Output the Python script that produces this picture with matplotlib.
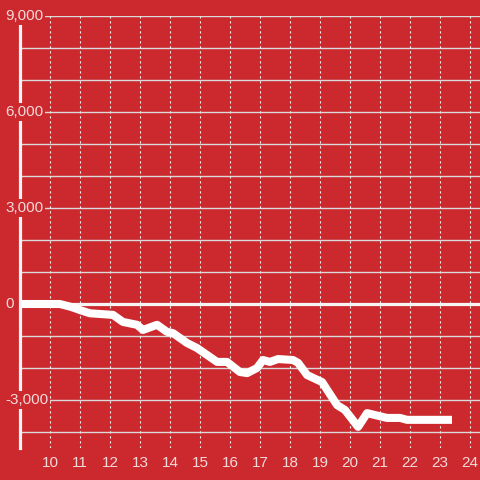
import matplotlib

matplotlib.use("Agg")
import matplotlib.pyplot as plt
from matplotlib.transforms import blended_transform_factory

# hour of day vs running value
hours = [9.0, 10.33, 10.7, 11.0, 11.33, 12.1, 12.43, 12.9, 13.1, 13.57, 13.9, 14.1,
         14.57, 14.9, 15.57, 15.9, 16.33, 16.57, 16.9, 17.1, 17.33, 17.6, 18.1, 18.27,
         18.57, 19.07, 19.57, 19.83, 20.27, 20.57, 21.23, 21.67, 21.9, 23.4]
values = [0, 0, -90, -190, -290, -340, -560, -650, -810, -650, -870, -910,
          -1220, -1375, -1810, -1810, -2125, -2160, -2000, -1750, -1810, -1720, -1750, -1840,
          -2220, -2440, -3160, -3310, -3840, -3410, -3560, -3560, -3620, -3620]

x_ticks = list(range(10, 25))
y_labels = [9000, 6000, 3000, 0, -3000]
y_grid = list(range(-4000, 10000, 1000))

BG = "#cc292e"
TXT = "#f3dada"

fig = plt.figure(figsize=(4.8, 4.8), dpi=100, facecolor=BG)
ax = fig.add_axes([20 / 480, 32 / 480, 460 / 480, 432 / 480])
ax.set_facecolor(BG)
ax.set_xlim(9, 24 + 1 / 3)
ax.set_ylim(-4500, 9000)

for v in y_grid:
    ax.axhline(v, color="#d9d9d9", lw=1, zorder=1)
for h in x_ticks:
    ax.axvline(h, color="#eeeeee", lw=0.8, ls=(0, (2, 2.5)), zorder=1)
ax.axhline(0, color="#f5f5f5", lw=2.3, zorder=2)

ax.plot(hours, values, color="white", lw=5.8, solid_joinstyle="round",
        solid_capstyle="butt", zorder=3)

for s in ["top", "right", "bottom"]:
    ax.spines[s].set_visible(False)
ax.spines["left"].set_color("#f5f5f5")
ax.spines["left"].set_linewidth(2.3)
ax.spines["left"].set_zorder(4)

ax.set_xticks(x_ticks)
ax.set_xticklabels([str(h) for h in x_ticks])
ax.tick_params(axis="x", length=0, pad=6, labelsize=11, labelcolor=TXT)
ax.set_yticks([])
for lab in ax.get_xticklabels():
    lab.set_fontfamily("Liberation Sans")

tr = blended_transform_factory(fig.transFigure, ax.transData)
for v in y_labels:
    ax.text(5 / 480, v, f"{v:,}", transform=tr, ha="left", va="center",
            fontsize=11, color=TXT, family="Liberation Sans", zorder=5,
            bbox=dict(facecolor=BG, edgecolor="none", pad=1.5))

fig.savefig("out.png", dpi=100, facecolor=BG)
